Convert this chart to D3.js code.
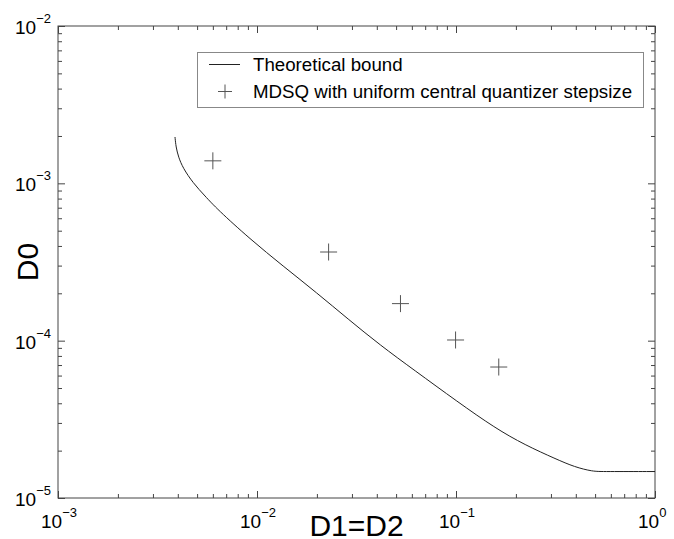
<!DOCTYPE html>
<html lang="en">
<head>
<meta charset="UTF-8"/>
<title>D0 vs D1=D2</title>
<script src="https://d3js.org/d3.v7.min.js"></script>
<style>
	body { margin: 0; background: #fff; }
	text { font-family: "Liberation Sans", Arial, Helvetica, sans-serif; fill: #000; }
</style>
</head>
<body>
<script>
	var w = 674;
	var h = 539;
	var margin = {left: 58, right: 19, top: 26, bottom: 41};

	// theoretical bound
	var boundD1 = [0.003872, 0.003916, 0.004030, 0.004246, 0.004771, 0.005480, 0.006295, 0.009223,
	               0.01351, 0.02002, 0.02866, 0.04150, 0.06151, 0.1023, 0.1570, 0.2222, 0.3181,
	               0.3945, 0.4877, 0.55, 1.0];
	var boundD0 = [1.970e-3, 1.702e-3, 1.470e-3, 1.251e-3, 1.005e-3, 8.308e-4, 6.868e-4, 4.427e-4,
	               2.982e-4, 2.009e-4, 1.373e-4, 9.384e-5, 6.510e-5, 4.074e-5, 2.785e-5, 2.172e-5,
	               1.769e-5, 1.574e-5, 1.473e-5, 1.473e-5, 1.473e-5];

	// MDSQ points
	var mdsqD1 = [0.0060, 0.0229, 0.0526, 0.0995, 0.164];
	var mdsqD0 = [1.39e-3, 3.66e-4, 1.72e-4, 1.01e-4, 6.8e-5];

	var xTicks = [1e-3, 1e-2, 1e-1, 1e0];
	var xExps  = ["-3", "-2", "-1", "0"];
	var yTicks = [1e-5, 1e-4, 1e-3, 1e-2];
	var yExps  = ["-5", "-4", "-3", "-2"];
	var legendLabels = ["Theoretical bound", "MDSQ with uniform central quantizer stepsize"];

	var xScale = d3.scaleLog()
		.domain([1e-3, 1])
		.range([margin.left, w - margin.right]);

	var yScale = d3.scaleLog()
		.domain([1e-5, 1e-2])
		.range([h - margin.bottom, margin.top]);

	var svg = d3.select("body")
		.append("svg")
		.attr("width", w)
		.attr("height", h);

	var axisColor = "#444";

	// minor ticks (all 4 sides, pointing in)
	var xMinor = xScale.ticks().filter(function(d){ return xTicks.indexOf(d) < 0; });
	var yMinor = yScale.ticks().filter(function(d){ return yTicks.indexOf(d) < 0; });

	function drawAxis(axis, transform) {
		var g = svg.append("g")
			.attr("transform", transform)
			.call(axis);
		g.select(".domain").remove();
		g.selectAll("line").attr("stroke", axisColor);
		g.selectAll("text").remove();
	}

	var x0 = h - margin.bottom, y0 = margin.top;
	drawAxis(d3.axisBottom(xScale).tickValues(xMinor).tickSize(-4), "translate(0," + x0 + ")");
	drawAxis(d3.axisTop(xScale).tickValues(xMinor).tickSize(-4), "translate(0," + y0 + ")");
	drawAxis(d3.axisBottom(xScale).tickValues(xTicks).tickSize(-7), "translate(0," + x0 + ")");
	drawAxis(d3.axisTop(xScale).tickValues(xTicks).tickSize(-7), "translate(0," + y0 + ")");
	drawAxis(d3.axisLeft(yScale).tickValues(yMinor).tickSize(-4), "translate(" + margin.left + ",0)");
	drawAxis(d3.axisRight(yScale).tickValues(yMinor).tickSize(-4), "translate(" + (w - margin.right) + ",0)");
	drawAxis(d3.axisLeft(yScale).tickValues(yTicks).tickSize(-7), "translate(" + margin.left + ",0)");
	drawAxis(d3.axisRight(yScale).tickValues(yTicks).tickSize(-7), "translate(" + (w - margin.right) + ",0)");

	// box
	svg.append("rect")
		.attr("x", margin.left)
		.attr("y", margin.top)
		.attr("width", w - margin.left - margin.right)
		.attr("height", h - margin.top - margin.bottom)
		.attr("fill", "none")
		.attr("stroke", axisColor)
		.attr("stroke-width", 1);

	// tick labels 10^n
	xTicks.forEach(function(d, i){
		var t = svg.append("text")
			.attr("x", xScale(d) - 17)
			.attr("y", h - margin.bottom + 30)
			.style("font-size", "19px");
		t.append("tspan").text("10");
		t.append("tspan").attr("dy", -11).style("font-size", "13px").text(xExps[i].replace("-", "\u2212"));
	});

	yTicks.forEach(function(d, i){
		var t = svg.append("text")
			.attr("x", 15)
			.attr("y", yScale(d) + 8)
			.style("font-size", "19px");
		t.append("tspan").text("10");
		t.append("tspan").attr("dy", -11).style("font-size", "13px").text(yExps[i].replace("-", "\u2212"));
	});

	// axis titles
	svg.append("text")
		.attr("x", (margin.left + w - margin.right) / 2)
		.attr("y", h - 3)
		.attr("text-anchor", "middle")
		.style("font-size", "30px")
		.text("D1=D2");

	svg.append("text")
		.attr("transform", "translate(38," + ((margin.top + h - margin.bottom) / 2) + ") rotate(-90)")
		.attr("text-anchor", "middle")
		.style("font-size", "30px")
		.text("D0");

	// theoretical bound line
	var bound = boundD1.map(function(d, i){ return [d, boundD0[i]]; });
	var line = d3.line()
		.x(function(d){ return xScale(d[0]); })
		.y(function(d){ return yScale(d[1]); })
		.curve(d3.curveBasis);

	svg.append("path")
		.datum(bound)
		.attr("d", line)
		.attr("fill", "none")
		.attr("stroke", "#222")
		.attr("stroke-width", 1);

	// MDSQ crosses
	var cross = 8.5;
	var pts = mdsqD1.map(function(d, i){ return [d, mdsqD0[i]]; });
	var marks = svg.selectAll(".mdsq")
		.data(pts)
		.enter()
		.append("g")
		.attr("class", "mdsq")
		.attr("transform", function(d){ return "translate(" + xScale(d[0]) + "," + yScale(d[1]) + ")"; });
	marks.append("line").attr("x1", -cross).attr("x2", cross).attr("stroke", "#555");
	marks.append("line").attr("y1", -cross).attr("y2", cross).attr("stroke", "#555");

	// legend
	var lg = svg.append("g");
	lg.append("rect")
		.attr("x", 197.5)
		.attr("y", 52.5)
		.attr("width", 446)
		.attr("height", 55)
		.attr("fill", "#fff")
		.attr("stroke", "#888");
	lg.append("line")
		.attr("x1", 209).attr("x2", 240)
		.attr("y1", 64.5).attr("y2", 64.5)
		.attr("stroke", "#222");
	lg.append("line").attr("x1", 218).attr("x2", 232).attr("y1", 91.5).attr("y2", 91.5).attr("stroke", "#555");
	lg.append("line").attr("x1", 225).attr("x2", 225).attr("y1", 84.5).attr("y2", 98.5).attr("stroke", "#555");
	lg.selectAll(".lgtext")
		.data(legendLabels)
		.enter()
		.append("text")
		.attr("class", "lgtext")
		.attr("x", 253)
		.attr("y", function(d, i){ return 71 + i * 27; })
		.style("font-size", "18.7px")
		.text(function(d){ return d; });
</script>
</body>
</html>
